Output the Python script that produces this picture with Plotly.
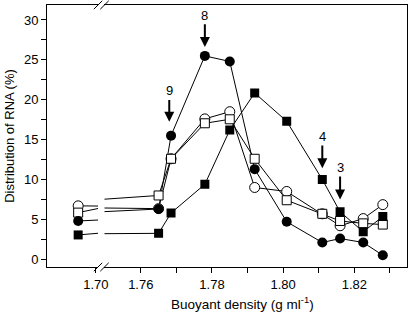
import plotly.graph_objects as go

# Buoyant density of each fraction (g/ml); first value sits left of the axis break
density = [1.695, 1.765, 1.7685, 1.778, 1.785, 1.792, 1.801, 1.811, 1.816, 1.8225, 1.828]

# Distribution of RNA (%) per series
filled_circle = [4.8, 6.3, 15.5, 25.5, 24.8, 11.3, 4.7, 2.1, 2.6, 2.1, 0.5]
open_circle = [6.7, 6.35, 12.6, 17.6, 18.5, 9.0, 8.5, 5.7, 4.2, 5.1, 6.85]
open_square = [5.85, 8.0, 12.6, 17.05, 17.55, 12.6, 7.4, 5.7, 4.8, 4.5, 4.35]
filled_square = [3.05, 3.25, 5.8, 9.4, 16.2, 20.85, 17.3, 10.0, 5.95, 3.45, 5.35]

# Ticks
x_left_ticks = [1.70]
x_left_labels = ["1.70"]
x_right_ticks = [1.76, 1.78, 1.80, 1.82]
x_right_labels = ["1.76", "1.78", "1.80", "1.82"]
x_right_minor = [1.77, 1.79, 1.81, 1.83]
y_ticks = [0, 5, 10, 15, 20, 25, 30]
y_labels = ["0", "5", "10", "15", "20", "25", "30"]
y_minor = [2.5, 7.5, 12.5, 17.5, 22.5, 27.5]

# Fraction arrows
arrow_labels = ["9", "8", "4", "3"]
arrow_x = [1.768, 1.778, 1.811, 1.816]
arrow_tip = [17.25, 26.6, 11.4, 7.5]
arrow_text_y = [21.1, 30.6, 15.4, 11.5]

FONT = "Arial, Liberation Sans, sans-serif"

series = [
    (open_circle, dict(symbol="circle", size=10, color="white", line=dict(color="black", width=1))),
    (open_square, dict(symbol="square", size=9, color="white", line=dict(color="black", width=1))),
    (filled_circle, dict(symbol="circle", size=10, color="black", line=dict(color="black", width=0))),
    (filled_square, dict(symbol="square", size=9, color="black", line=dict(color="black", width=0))),
]

fig = go.Figure()
axes_pairs = [("x", "y"), ("x2", "y2")]
for xa, ya in axes_pairs:
    for vals, mk in series:
        fig.add_trace(go.Scatter(x=density, y=vals, mode="lines", xaxis=xa, yaxis=ya,
                                 line=dict(color="black", width=1), hoverinfo="skip"))
for xa, ya in axes_pairs:
    for vals, mk in series:
        fig.add_trace(go.Scatter(x=density, y=vals, mode="markers", xaxis=xa, yaxis=ya,
                                 marker=mk))

Y_RANGE = [-0.97, 31.88]
LEFT_DOM = [0, 0.1417]
RIGHT_DOM = [0.1597, 1]

axis_common = dict(showline=True, linecolor="black", linewidth=1, showgrid=False,
                   zeroline=False, ticks="outside", ticklen=5, tickwidth=1, tickcolor="black",
                   automargin=False,
                   tickfont=dict(family=FONT, size=13, color="black"))
minor_common = dict(ticks="outside", ticklen=5, tickwidth=1, tickcolor="black", showgrid=False)

fig.update_layout(
    template="none",
    width=409, height=320,
    margin=dict(l=47, r=2, t=5, b=53, autoexpand=False),
    plot_bgcolor="white", paper_bgcolor="white",
    showlegend=False,
    font=dict(family=FONT, size=13, color="black"),
    xaxis=dict(domain=LEFT_DOM, range=[1.6862, 1.7006], anchor="y", mirror=True,
               tickvals=x_left_ticks, ticktext=x_left_labels, **axis_common),
    xaxis2=dict(domain=RIGHT_DOM, range=[1.7498, 1.8348], anchor="y2", mirror=True,
                tickvals=x_right_ticks, ticktext=x_right_labels,
                minor=dict(tickvals=x_right_minor, **minor_common), **axis_common),
    yaxis=dict(range=Y_RANGE, anchor="x", tickvals=y_ticks, ticktext=y_labels,
               minor=dict(tickvals=y_minor, **minor_common),
               title=dict(text="Distribution of RNA (%)", font=dict(family=FONT, size=13), standoff=6),
               **axis_common),
    yaxis2=dict(range=Y_RANGE, matches="y", anchor="x2", side="right", showticklabels=False,
                automargin=False,
                showline=True, linecolor="black", linewidth=1, ticks="", showgrid=False, zeroline=False),
)

# axis-break slashes
dx, dy = 0.0117, 0.016
for xc in [LEFT_DOM[1], RIGHT_DOM[0]]:
    for yc in [0, 1]:
        fig.add_shape(type="line", xref="paper", yref="paper",
                      x0=xc - dx, y0=yc - dy, x1=xc + dx, y1=yc + dy,
                      line=dict(color="black", width=1))

# x-axis title
fig.add_annotation(text="Buoyant density (g ml<sup>-1</sup>)", xref="paper", yref="paper",
                   x=0.542, y=-0.137, showarrow=False, xanchor="center", yanchor="middle",
                   font=dict(family=FONT, size=13.5, color="black"))

for lab, xv, tip, ty in zip(arrow_labels, arrow_x, arrow_tip, arrow_text_y):
    fig.add_annotation(text=lab, x=xv, y=tip, ax=xv, ay=ty, xref="x2", yref="y2",
                       axref="x2", ayref="y2", showarrow=True, arrowhead=2, arrowsize=1,
                       arrowwidth=2, arrowcolor="black", standoff=0,
                       font=dict(family=FONT, size=13, color="black"))

fig.write_html("out.html", config={"displayModeBar": False},
               post_script="document.body.style.margin='0';")
